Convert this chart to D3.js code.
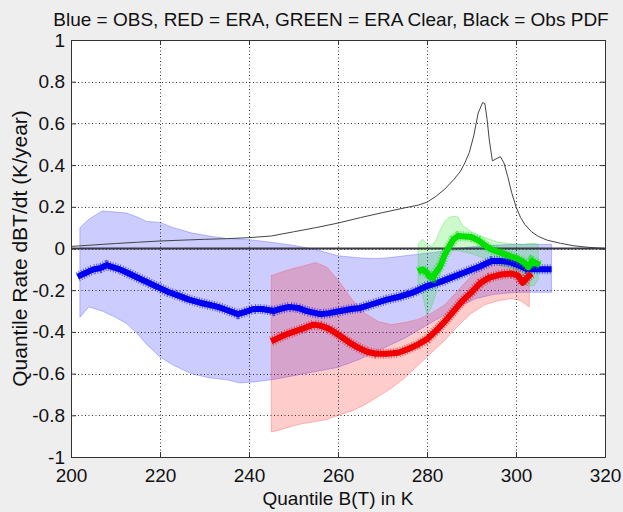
<!DOCTYPE html>
<html>
<head>
<meta charset="utf-8">
<script src="https://cdn.jsdelivr.net/npm/d3@7"></script>
<style>
  html, body { margin: 0; padding: 0; background: #eeeeef; }
  svg { display: block; font-family: "Liberation Sans", Arial, sans-serif; }
</style>
</head>
<body>
<div class="chart"></div>
<script>
// quantile temperature (K) vs rate (K/year)
const xTicks = [200, 220, 240, 260, 280, 300, 320]
const yTicks = [-1, -0.8, -0.6, -0.4, -0.2, 0, 0.2, 0.4, 0.6, 0.8, 1]

// OBS spread  [x, low, high]
const obsBand = [
  [202, -0.33, 0.10], [204, -0.28, 0.14], [207, -0.30, 0.18], [210, -0.33, 0.175],
  [212.5, -0.36, 0.17], [215, -0.41, 0.15], [217, -0.46, 0.13], [220, -0.52, 0.125],
  [223, -0.56, 0.10], [227, -0.60, 0.075], [231, -0.62, 0.06], [235, -0.63, 0.048],
  [238, -0.645, 0.045], [241, -0.64, 0.04], [245, -0.63, 0.03], [250, -0.61, 0.015],
  [255, -0.59, -0.005], [260, -0.57, -0.035], [265, -0.53, -0.045], [268, -0.50, -0.048],
  [271, -0.47, -0.045], [275, -0.43, -0.035], [279, -0.38, -0.025], [283, -0.33, -0.015],
  [287, -0.28, 0.0], [291, -0.24, 0.01], [295, -0.22, 0.015], [300, -0.21, 0.02],
  [304, -0.21, 0.02], [308, -0.21, 0.02]
]

// ERA spread
const eraBand = [
  [245, -0.88, -0.13], [247, -0.87, -0.115], [250, -0.85, -0.095], [252, -0.84, -0.085],
  [255, -0.83, -0.067], [257.5, -0.82, -0.09], [260, -0.80, -0.15], [263, -0.78, -0.24],
  [266, -0.75, -0.31], [269, -0.71, -0.35], [272, -0.67, -0.365], [275, -0.62, -0.355],
  [278, -0.56, -0.34], [281, -0.50, -0.31], [284, -0.44, -0.27], [287, -0.37, -0.20],
  [290, -0.31, -0.13], [293, -0.27, -0.08], [296, -0.25, -0.055], [299, -0.24, -0.07],
  [301, -0.25, -0.09], [303, -0.28, -0.10]
]

// ERA clear-sky spread
const clearBand = [
  [278, -0.18, 0.02], [279, -0.22, 0.045], [280, -0.32, 0.02], [281, -0.28, 0.01],
  [282, -0.22, 0.04], [283, -0.12, 0.09], [284, -0.02, 0.13], [285, -0.01, 0.15],
  [286, -0.01, 0.155], [287, -0.01, 0.15], [288, -0.015, 0.11], [290, -0.025, 0.08],
  [292, -0.04, 0.06], [294, -0.06, 0.045], [296, -0.08, 0.03], [298, -0.09, 0.025],
  [300, -0.12, 0.02], [302, -0.17, 0.02], [303, -0.18, 0.025], [304, -0.18, 0.025],
  [305, -0.15, 0.02]
]

const obsRate = [
  [201.5, -0.135], [203, -0.12], [205, -0.10], [206.5, -0.095], [208, -0.08], [209.5, -0.09],
  [211, -0.10], [213, -0.12], [215.5, -0.145], [218, -0.17], [220, -0.19], [222, -0.21],
  [224, -0.225], [226.5, -0.245], [229, -0.26], [231, -0.27], [233, -0.28], [235, -0.295],
  [237.5, -0.315], [239, -0.305], [241, -0.29], [243, -0.29], [245.5, -0.30], [247, -0.29],
  [249, -0.28], [251, -0.285], [253, -0.30], [256, -0.315], [258, -0.31], [260.5, -0.30],
  [263, -0.29], [265, -0.285], [268, -0.265], [271, -0.245], [274, -0.23], [277, -0.21],
  [280, -0.18], [283, -0.16], [286, -0.135], [289, -0.11], [292, -0.085], [294.5, -0.06],
  [296.5, -0.06], [298.5, -0.065], [300.5, -0.08], [302.5, -0.10], [304, -0.10], [306, -0.10],
  [308, -0.10]
]

const eraRate = [
  [245, -0.445], [246.5, -0.43], [248, -0.415], [250, -0.40], [252, -0.385], [254.5, -0.365],
  [256, -0.37], [258, -0.385], [260.5, -0.42], [262.5, -0.45], [264.5, -0.475], [266.5, -0.495],
  [268.5, -0.505], [271, -0.505], [273.5, -0.50], [276, -0.48], [278, -0.46], [280, -0.435],
  [282, -0.395], [284, -0.35], [286, -0.30], [288, -0.25], [290, -0.21], [292, -0.165],
  [294, -0.14], [296.5, -0.125], [299, -0.12], [300.5, -0.13], [301.5, -0.165], [302.5, -0.14],
  [303.5, -0.12]
]

const clearRate = [
  [278, -0.11], [279, -0.10], [280, -0.115], [280.5, -0.135], [281.3, -0.14], [282, -0.115],
  [283, -0.085], [284, -0.03], [285, 0.01], [286, 0.045], [287, 0.06], [288.5, 0.058],
  [290, 0.055], [291.5, 0.04], [293, 0.015], [294.5, -0.005], [296.5, -0.02], [298.5, -0.035],
  [300.5, -0.05], [302, -0.07], [302.8, -0.09], [303.6, -0.06], [304.5, -0.07], [305.4, -0.08]
]

// observed B(T) distribution
const obsPdf = [
  [200, 0.01], [205, 0.017], [210, 0.024], [215, 0.03], [220, 0.036], [225, 0.04],
  [230, 0.044], [235, 0.047], [240, 0.052], [245, 0.06], [250, 0.08], [255, 0.10],
  [260, 0.122], [265, 0.148], [270, 0.172], [275, 0.195], [278, 0.208], [280, 0.222],
  [282, 0.25], [284, 0.285], [286, 0.33], [287.5, 0.37], [288.5, 0.41], [289.5, 0.46],
  [290.5, 0.54], [291.5, 0.65], [292.5, 0.70], [293, 0.695], [293.5, 0.62], [294, 0.52],
  [294.7, 0.42], [295.5, 0.43], [296.5, 0.44], [297.3, 0.41], [298.2, 0.34], [299, 0.27],
  [300, 0.20], [301, 0.15], [302, 0.115], [303.5, 0.08], [305, 0.058], [307, 0.04],
  [310, 0.025], [313, 0.013], [316, 0.006], [320, 0.0]
]

const width = 623
const height = 512
const margin = { top: 40, right: 18, bottom: 55, left: 71 }

const svg = d3.select('.chart').append('svg')
  .attr('width', width)
  .attr('height', height)

const x = d3.scaleLinear().domain([200, 320]).range([margin.left, width - margin.right])
const y = d3.scaleLinear().domain([-1, 1]).range([height - margin.bottom, margin.top])

const [x0, x1] = x.range()
const [y1, y0] = y.range()

svg.append('rect')
  .attr('x', x0).attr('y', y0)
  .attr('width', x1 - x0).attr('height', y1 - y0)
  .attr('fill', '#fff')

// dotted grid
const grid = svg.append('g')
  .attr('stroke', '#333')
  .attr('stroke-width', 1)
  .attr('stroke-dasharray', '1,2.5')
grid.selectAll('line.v').data(xTicks).join('line')
  .attr('class', 'v')
  .attr('x1', d => Math.round(x(d)) + 0.5).attr('x2', d => Math.round(x(d)) + 0.5)
  .attr('y1', y0).attr('y2', y1)
grid.selectAll('line.h').data(yTicks).join('line')
  .attr('class', 'h')
  .attr('x1', x0).attr('x2', x1)
  .attr('y1', d => Math.round(y(d)) + 0.5).attr('y2', d => Math.round(y(d)) + 0.5)

const plot = svg.append('g')
  .attr('clip-path', 'url(#clip)')
svg.append('clipPath').attr('id', 'clip')
  .append('rect')
  .attr('x', x0).attr('y', y0)
  .attr('width', x1 - x0).attr('height', y1 - y0)

const area = d3.area()
  .x(d => x(d[0]))
  .y0(d => y(d[1]))
  .y1(d => y(d[2]))

const bands = [
  { data: obsBand, fill: 'rgba(0,0,255,0.2)', edge: 'rgba(80,80,255,0.45)' },
  { data: eraBand, fill: 'rgba(255,0,0,0.2)', edge: 'rgba(255,80,80,0.45)' },
  { data: clearBand, fill: 'rgba(0,230,0,0.2)', edge: 'rgba(60,220,60,0.45)' }
]

bands.forEach(b => {
  plot.append('path')
    .datum(b.data)
    .attr('d', area)
    .attr('fill', b.fill)
    .attr('stroke', b.edge)
    .attr('stroke-width', 0.8)
})

const line = d3.line()
  .x(d => x(d[0]))
  .y(d => y(d[1]))

// PDF curve
plot.append('path')
  .datum(obsPdf)
  .attr('d', line)
  .attr('fill', 'none')
  .attr('stroke', '#444')
  .attr('stroke-width', 1)

// zero line
plot.append('line')
  .attr('x1', x0).attr('x2', x1)
  .attr('y1', y(0)).attr('y2', y(0))
  .attr('stroke', '#3a3a44')
  .attr('stroke-width', 2.2)

// rate curves drawn as dense '+' markers: solid core plus a ragged rim
const rates = [
  { data: obsRate, color: '#0000f0' },
  { data: eraRate, color: '#f00000' },
  { data: clearRate, color: '#00e000' }
]

rates.forEach(r => {
  plot.append('path')
    .datum(r.data)
    .attr('d', line)
    .attr('fill', 'none')
    .attr('stroke', r.color)
    .attr('stroke-width', 10)
    .attr('stroke-dasharray', '1,1.6')
    .attr('stroke-opacity', 0.55)
  plot.append('path')
    .datum(r.data)
    .attr('d', line)
    .attr('fill', 'none')
    .attr('stroke', r.color)
    .attr('stroke-width', 6)
    .attr('stroke-linejoin', 'round')
})

// axes: inward ticks on all four sides
const fmt = d => String(d)

svg.append('g')
  .attr('transform', `translate(0,${y1})`)
  .call(d3.axisBottom(x).tickValues(xTicks).tickFormat(fmt).tickSize(-5).tickPadding(12))
svg.append('g')
  .attr('transform', `translate(0,${y0})`)
  .call(d3.axisTop(x).tickValues(xTicks).tickFormat('').tickSize(-5))
svg.append('g')
  .attr('transform', `translate(${x0},0)`)
  .call(d3.axisLeft(y).tickValues(yTicks).tickFormat(fmt).tickSize(-5).tickPadding(6))
svg.append('g')
  .attr('transform', `translate(${x1},0)`)
  .call(d3.axisRight(y).tickValues(yTicks).tickFormat('').tickSize(-5))

svg.selectAll('.domain').attr('stroke', '#333')
svg.selectAll('.tick line').attr('stroke', '#333')
svg.selectAll('.tick text')
  .attr('fill', '#111')
  .style('font-size', '19px')
  .style('font-family', '"Liberation Sans", Arial, sans-serif')

svg.append('text')
  .attr('x', 331).attr('y', 26)
  .attr('text-anchor', 'middle')
  .attr('font-size', 19)
  .attr('fill', '#111')
  .text('Blue = OBS, RED = ERA, GREEN = ERA Clear, Black = Obs PDF')

svg.append('text')
  .attr('x', (x0 + x1) / 2).attr('y', 505)
  .attr('text-anchor', 'middle')
  .attr('font-size', 19)
  .attr('fill', '#111')
  .text('Quantile B(T) in K')

svg.append('text')
  .attr('transform', `translate(27,${(y0 + y1) / 2}) rotate(-90)`)
  .attr('text-anchor', 'middle')
  .attr('font-size', 21)
  .attr('fill', '#111')
  .text('Quantile Rate dBT/dt (K/year)')
</script>
</body>
</html>
